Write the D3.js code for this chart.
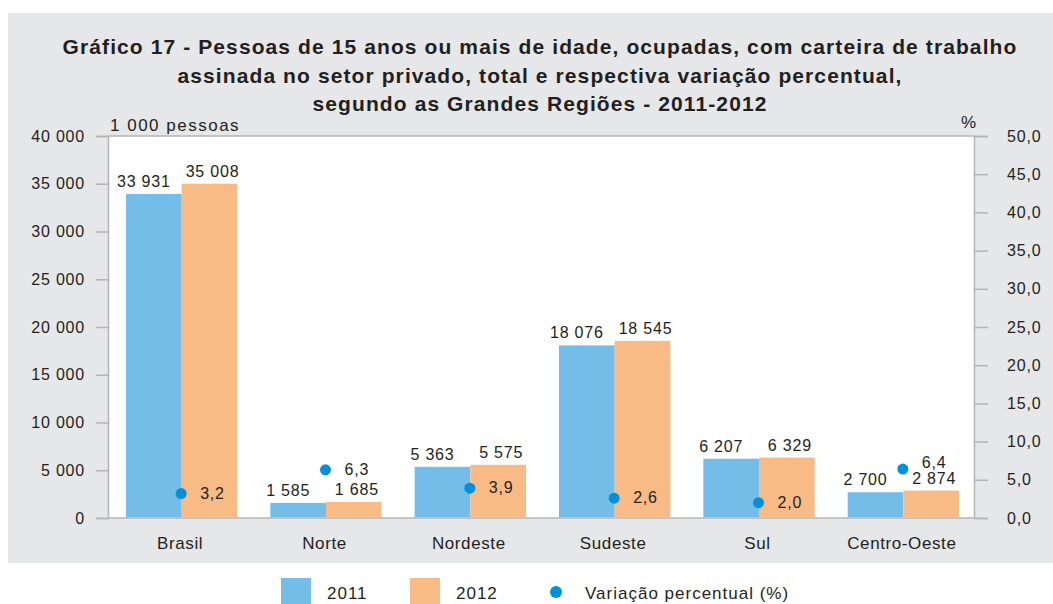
<!DOCTYPE html>
<html>
<head>
<meta charset="utf-8">
<script src="https://cdn.jsdelivr.net/npm/d3@7.9.0/dist/d3.min.js"></script>
<style>
  body { margin: 0; background: #fff; }
  svg { display: block; font-family: "Liberation Sans", Arial, sans-serif; }
</style>
</head>
<body>
<svg width="1053" height="604"></svg>
<script>
// chart data
const regions = ['Brasil', 'Norte', 'Nordeste', 'Sudeste', 'Sul', 'Centro-Oeste'];
const values2011 = [33931, 1585, 5363, 18076, 6207, 2700];
const values2012 = [35008, 1685, 5575, 18545, 6329, 2874];
const variation = [3.2, 6.3, 3.9, 2.6, 2.0, 6.4];
const leftTicks = [0, 5000, 10000, 15000, 20000, 25000, 30000, 35000, 40000];
const rightTicks = [0, 5, 10, 15, 20, 25, 30, 35, 40, 45, 50];
const titleLines = [
  'Gráfico 17 - Pessoas de 15 anos ou mais de idade, ocupadas, com carteira de trabalho',
  'assinada no setor privado, total e respectiva variação percentual,',
  'segundo as Grandes Regiões - 2011-2012'
];

const blue = '#74bde8', orange = '#f9bb85', dotColor = '#0091d8';
const textColor = '#231f20', axisColor = '#b4b4b6';

const svg = d3.select('svg');
const margin = { left: 108, right: 974, top: 136, bottom: 518 };

const fmtInt = (v) => d3.format(',')(v).replace(/,/g, ' ');
const fmtPct = (v) => v.toFixed(1).replace('.', ',');

// grey panel
svg.append('rect').attr('x', 8).attr('y', 13).attr('width', 1045).attr('height', 550).attr('fill', '#e6e7e8');
svg.append('rect').attr('x', margin.left).attr('y', margin.top)
  .attr('width', margin.right - margin.left).attr('height', margin.bottom - margin.top).attr('fill', '#fff');

// title
svg.append('g').selectAll('text').data(titleLines).join('text')
  .attr('x', 540).attr('y', (d, i) => 54 + i * 28.5)
  .attr('text-anchor', 'middle')
  .attr('font-size', 21).attr('font-weight', 'bold').attr('fill', textColor)
  .attr('letter-spacing', 1.1)
  .text((d) => d);

let x0 = d3.scaleBand().domain(regions).range([margin.left, margin.right]);
let x1 = d3.scaleBand().domain(['2011', '2012']).range([18, x0.bandwidth() - 15]);
let yLeft = d3.scaleLinear().domain([0, 40000]).range([margin.bottom, margin.top]);
let yRight = d3.scaleLinear().domain([0, 50]).range([margin.bottom, margin.top]);

// axes
let leftAxis = svg.append('g').attr('transform', `translate(${margin.left},0)`)
  .call(d3.axisLeft(yLeft).tickValues(leftTicks).tickSize(12).tickPadding(11).tickFormat(fmtInt));
let rightAxis = svg.append('g').attr('transform', `translate(${margin.right},0)`)
  .call(d3.axisRight(yRight).tickValues(rightTicks).tickSize(14).tickPadding(19).tickFormat(fmtPct));
rightAxis.selectAll('.tick text').attr('text-anchor', 'start');
[leftAxis, rightAxis].forEach((ax) => {
  ax.select('.domain').attr('stroke', axisColor).attr('stroke-width', 1.5);
  ax.selectAll('.tick line').attr('stroke', axisColor).attr('stroke-width', 1.5);
  ax.selectAll('.tick text').attr('fill', textColor).attr('font-size', 16).attr('letter-spacing', 0.8)
    .attr('font-family', '"Liberation Sans", Arial, sans-serif');
});
// top and bottom border lines
svg.append('line').attr('x1', margin.left).attr('x2', margin.right)
  .attr('y1', margin.top).attr('y2', margin.top).attr('stroke', axisColor).attr('stroke-width', 1.5);
svg.append('line').attr('x1', margin.left).attr('x2', margin.right)
  .attr('y1', margin.bottom).attr('y2', margin.bottom).attr('stroke', axisColor).attr('stroke-width', 1.5);

svg.append('text').attr('x', 110).attr('y', 131).attr('font-size', 17).attr('fill', textColor)
  .attr('letter-spacing', 1.5).text('1 000 pessoas');
svg.append('text').attr('x', 961).attr('y', 128).attr('font-size', 17).attr('fill', textColor).text('%');

// bars
let rows = regions.map((r, i) => ({ region: r, i, v2011: values2011[i], v2012: values2012[i], pct: variation[i] }));
let groups = svg.append('g').selectAll('g').data(rows).join('g')
  .attr('transform', (d) => `translate(${x0(d.region)},0)`);

const series = [
  { key: '2011', get: (d) => d.v2011, color: blue, shift: -10 },
  { key: '2012', get: (d) => d.v2012, color: orange, shift: 3 }
];
series.forEach((s) => {
  groups.append('rect')
    .attr('x', x1(s.key)).attr('width', x1.bandwidth())
    .attr('y', (d) => yLeft(s.get(d)))
    .attr('height', (d) => margin.bottom - yLeft(s.get(d)) - 0.75)
    .attr('fill', s.color);
  groups.append('text')
    .attr('x', x1(s.key) + x1.bandwidth() / 2 + s.shift)
    .attr('y', (d) => yLeft(s.get(d)) - 7)
    .attr('text-anchor', 'middle').attr('font-size', 16).attr('fill', textColor)
    .attr('letter-spacing', 0.8)
    .text((d) => fmtInt(s.get(d)));
});

// variation dots
groups.append('circle')
  .attr('cx', x0.bandwidth() / 2 + 1).attr('cy', (d) => yRight(d.pct))
  .attr('r', 5.5).attr('fill', dotColor);
groups.append('text')
  .attr('x', x0.bandwidth() / 2 + 20)
  .attr('y', (d) => yRight(d.pct) + (d.region === 'Centro-Oeste' ? -1 : 5))
  .attr('font-size', 16).attr('fill', textColor).attr('letter-spacing', 0.8)
  .text((d) => fmtPct(d.pct));

// category labels
groups.append('text')
  .attr('x', x0.bandwidth() / 2).attr('y', 549)
  .attr('text-anchor', 'middle').attr('font-size', 17).attr('fill', textColor)
  .attr('letter-spacing', 0.6)
  .text((d) => d.region);

// legend
let legendItems = [
  { label: '2011', type: 'rect', color: blue, x: 281 },
  { label: '2012', type: 'rect', color: orange, x: 410 },
  { label: 'Variação percentual (%)', type: 'dot', color: dotColor, x: 548 }
];
let legend = svg.append('g');
legendItems.forEach((it) => {
  if (it.type === 'rect') {
    legend.append('rect').attr('x', it.x).attr('y', 578).attr('width', 30).attr('height', 26).attr('fill', it.color);
    legend.append('text').attr('x', it.x + 46).attr('y', 599).attr('font-size', 17).attr('fill', textColor)
      .attr('letter-spacing', 1).text(it.label);
  } else {
    legend.append('circle').attr('cx', it.x + 8).attr('cy', 592).attr('r', 6).attr('fill', it.color);
    legend.append('text').attr('x', it.x + 37).attr('y', 599).attr('font-size', 17).attr('fill', textColor)
      .attr('letter-spacing', 1).text(it.label);
  }
});
</script>
</body>
</html>
